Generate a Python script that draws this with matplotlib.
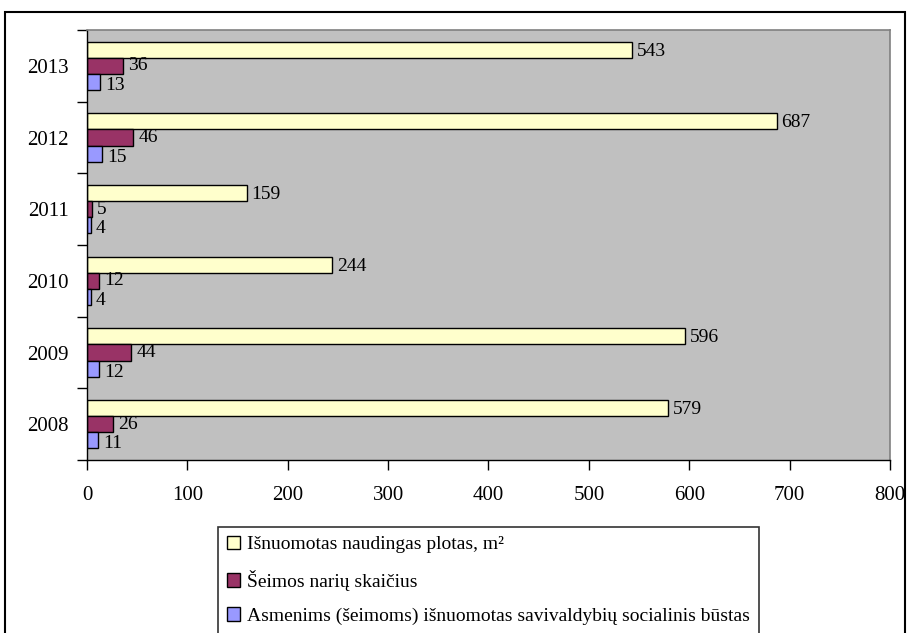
import numpy as np
import matplotlib
matplotlib.use('Agg')
import matplotlib.pyplot as plt
from matplotlib.patches import Rectangle

years = ['2008', '2009', '2010', '2011', '2012', '2013']
area = [579, 596, 244, 159, 687, 543]
members = [26, 44, 12, 5, 46, 36]
dwellings = [11, 12, 4, 4, 15, 13]
labels = ['Išnuomotas naudingas plotas, m²',
          'Šeimos narių skaičius',
          'Asmenims (šeimoms) išnuomotas savivaldybių socialinis būstas']
colors = ['#FFFFCC', '#993366', '#9999FF']

plt.rcParams['font.family'] = ['Liberation Serif', 'DejaVu Serif']
plt.rcParams['font.size'] = 15

fig = plt.figure(figsize=(9.1, 6.33), dpi=100)
W, H = 910, 633

# outer chart frame
fig.patches.append(Rectangle((5 / W, -0.05), 900 / W, 1 - 12 / H + 0.05,
                             transform=fig.transFigure, fill=False,
                             edgecolor='black', linewidth=1.5))

ax = fig.add_axes([87 / W, 1 - 460 / H, (890 - 87) / W, (460 - 30) / H])
ax.set_facecolor('#C0C0C0')

y = np.arange(len(years))
h = 0.225
bars = []
for k, (vals, off, dy) in enumerate(zip([area, members, dwellings],
                                        [h, 0, -h], [-0.02, 0.0, -0.05])):
    b = ax.barh(y + off, vals, height=h, color=colors[k], edgecolor='black',
                linewidth=1, label=labels[k])
    bars.append(b)
    for yi, v in zip(y + off, vals):
        ax.text(v + 5, yi + dy, str(v), va='center', ha='left', fontsize=14)

ax.set_xlim(0, 800)
ax.set_ylim(-0.5, len(years) - 0.5)
ax.set_xticks(np.arange(0, 801, 100))
ax.set_yticks(y)
ax.set_yticklabels(years)
ax.set_yticks(np.arange(-0.5, len(years), 1), minor=True)
ax.tick_params(axis='y', which='major', length=0, pad=13)
ax.tick_params(axis='y', which='minor', length=7, width=1, direction='out')
ax.tick_params(axis='x', length=7, width=1, direction='out', pad=12)

for s in ['top', 'right']:
    ax.spines[s].set_color('#808080')
    ax.spines[s].set_linewidth(1.2)
for s in ['left', 'bottom']:
    ax.spines[s].set_color('black')
    ax.spines[s].set_linewidth(1)

leg = fig.legend(handles=bars, labels=labels, loc='upper left',
                 bbox_to_anchor=(218 / W, 1 - 527 / H), frameon=True,
                 fancybox=False, edgecolor='black', handlelength=0.7,
                 handleheight=0.7, handletextpad=0.35, labelspacing=0.85,
                 borderpad=0.45, borderaxespad=0, fontsize=14)
leg.get_frame().set_linewidth(1.2)

fig.savefig('out.png', dpi=100, facecolor='white')
